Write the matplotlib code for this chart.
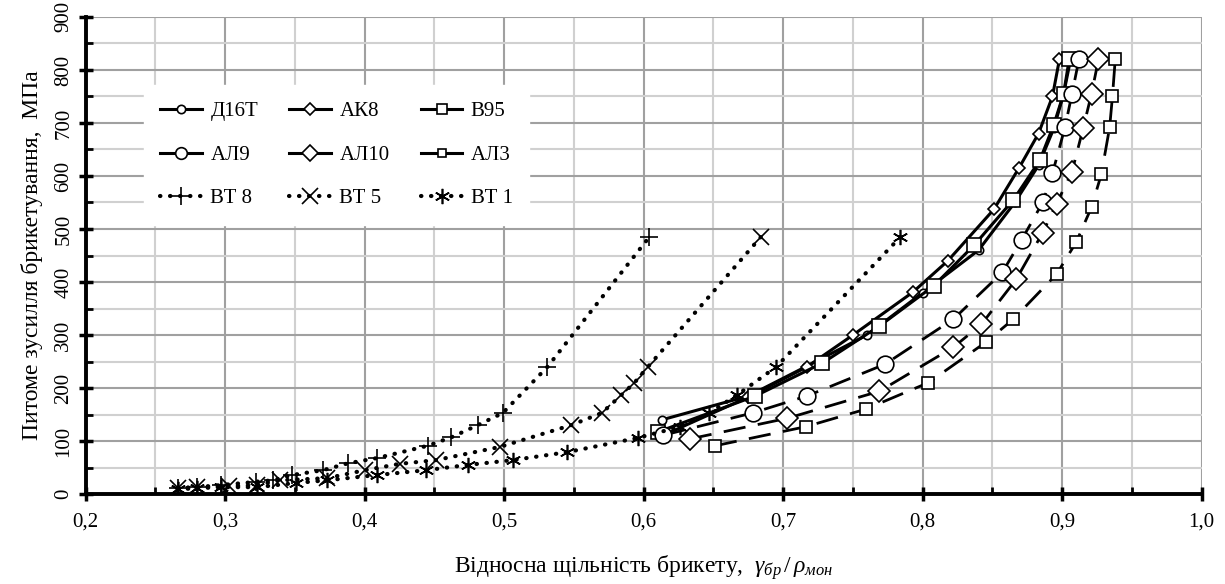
import matplotlib
matplotlib.use("Agg")
import matplotlib.pyplot as plt
from matplotlib.lines import Line2D
from matplotlib.ticker import MultipleLocator, FuncFormatter

plt.rcParams['font.family'] = ['Liberation Serif', 'DejaVu Serif']
plt.rcParams['mathtext.fontset'] = 'custom'
plt.rcParams['mathtext.it'] = 'Liberation Serif:italic'
plt.rcParams['mathtext.rm'] = 'Liberation Serif'

# ---- data ----
d16t_x = [0.613, 0.675, 0.716, 0.760, 0.800, 0.840, 0.866, 0.883, 0.894, 0.901, 0.906]
d16t_y = [140, 185, 240, 300, 380, 460, 550, 620, 690, 755, 820]

ak8_x = [0.615, 0.675, 0.717, 0.750, 0.793, 0.818, 0.851, 0.869, 0.883, 0.893, 0.898]
ak8_y = [112, 183, 240, 300, 381, 440, 537, 615, 680, 750, 820]

b95_x = [0.610, 0.680, 0.728, 0.769, 0.808, 0.837, 0.865, 0.884, 0.894, 0.901, 0.905]
b95_y = [117, 185, 247, 317, 393, 470, 555, 630, 697, 755, 820]

al9_x = [0.614, 0.678, 0.717, 0.773, 0.822, 0.857, 0.871, 0.886, 0.893, 0.902, 0.907, 0.912]
al9_y = [111, 153, 185, 245, 330, 418, 480, 550, 605, 692, 755, 820]

al10_x = [0.633, 0.703, 0.769, 0.822, 0.842, 0.867, 0.886, 0.896, 0.907, 0.915, 0.921, 0.926]
al10_y = [104, 143, 194, 277, 320, 405, 493, 548, 608, 690, 755, 820]

al3_x = [0.651, 0.716, 0.759, 0.804, 0.845, 0.865, 0.896, 0.910, 0.921, 0.928, 0.934, 0.936, 0.938]
al3_y = [91, 127, 160, 210, 286, 330, 415, 475, 541, 603, 692, 750, 820]

vt8_x = [0.266, 0.280, 0.297, 0.322, 0.334, 0.348, 0.370, 0.388, 0.409, 0.445, 0.462, 0.481, 0.499, 0.531, 0.604]
vt8_y = [11, 13, 17, 23, 26, 36, 45, 58, 68, 91, 107, 130, 153, 240, 485]

vt5_x = [0.266, 0.280, 0.303, 0.323, 0.339, 0.373, 0.400, 0.425, 0.451, 0.497, 0.548, 0.570, 0.584, 0.593, 0.603, 0.684]
vt5_y = [11, 13, 15, 17, 26, 30, 45, 57, 64, 89, 130, 153, 187, 209, 240, 485]

vt1_x = [0.266, 0.280, 0.297, 0.323, 0.351, 0.373, 0.409, 0.444, 0.474, 0.506, 0.545, 0.596, 0.626, 0.647, 0.667, 0.695, 0.784]
vt1_y = [9, 11, 13, 13, 21, 26, 36, 45, 55, 64, 79, 106, 127, 153, 187, 240, 485]

labels = ['Д16Т', 'АК8', 'В95', 'АЛ9', 'АЛ10', 'АЛ3', 'ВТ 8', 'ВТ 5', 'ВТ 1']

fig = plt.figure(figsize=(12.25, 5.84), dpi=100)
ax = fig.add_axes([0.070, 0.154, 0.911, 0.817])

solid = dict(color='black', lw=2.2, linestyle='-', markerfacecolor='white',
             markeredgecolor='black', markeredgewidth=1.2)
dash = dict(color='black', lw=2.0, linestyle=(0, (8, 4.5)), markerfacecolor='white',
            markeredgecolor='black', markeredgewidth=1.2)
dot = dict(color='black', lw=3.0, linestyle=(0, (0.1, 2.3)), dash_capstyle='round',
           markeredgecolor='black', markeredgewidth=1.2)

star = (6, 2, 0)
styles = [
    (d16t_x, d16t_y, solid, 'o', 6),
    (ak8_x, ak8_y, solid, 'D', 6),
    (b95_x, b95_y, solid, 's', 10),
    (al9_x, al9_y, dash, 'o', 12),
    (al10_x, al10_y, dash, 'D', 11),
    (al3_x, al3_y, dash, 's', 8),
    (vt8_x, vt8_y, dot, '+', 13),
    (vt5_x, vt5_y, dot, 'x', 11),
    (vt1_x, vt1_y, dot, star, 11),
]
for (xs, ys, st, mk, ms), lab in zip(styles, labels):
    ax.plot(xs, ys, marker=mk, markersize=ms, zorder=3, **st)

ax.set_xlim(0.2, 1.0)
ax.set_ylim(0, 900)
ax.xaxis.set_major_locator(MultipleLocator(0.1))
ax.xaxis.set_minor_locator(MultipleLocator(0.05))
ax.yaxis.set_major_locator(MultipleLocator(100))
ax.yaxis.set_minor_locator(MultipleLocator(50))
ax.xaxis.set_major_formatter(FuncFormatter(lambda v, p: f"{v:.1f}".replace('.', ',')))
ax.yaxis.set_major_formatter(FuncFormatter(lambda v, p: f"{int(round(v))}"))

ax.grid(which='major', color='#a0a0a0', lw=1.5, zorder=0)
ax.grid(which='minor', color='#d0d0d0', lw=1.5, zorder=0)
ax.set_axisbelow(True)
for s in ['top', 'right']:
    ax.spines[s].set_visible(False)
for s in ['left', 'bottom']:
    ax.spines[s].set_linewidth(2.8)
    ax.spines[s].set_color('black')

ax.tick_params(axis='both', which='major', direction='inout', length=10, width=2.5,
               labelsize=15, colors='black')
ax.tick_params(axis='both', which='minor', direction='in', length=5, width=2.0)
ax.tick_params(axis='x', which='major', pad=8)
for t in ax.get_yticklabels():
    t.set_rotation(90)
    t.set_va('center')
ax.tick_params(axis='y', which='major', pad=4)

ax.set_ylabel('Питоме зусилля брикетування,  МПа', fontsize=17, labelpad=8)
ax.set_xlabel(r'Відносна щільність брикету,  $\gamma_{бр}\,/\,\rho_{мон}$', fontsize=17, labelpad=16)

handles = []
for (xs, ys, st, mk, ms), lab in zip(styles, labels):
    if st is dot:
        h = Line2D([], [], color='black', lw=3.0, linestyle=(0, (0.1, 2.3)), dash_capstyle='round',
                   marker=mk, markersize=ms, markeredgewidth=1.2, markeredgecolor='black')
    else:
        h = Line2D([], [], color='black', lw=2.2, linestyle='-', marker=mk,
                   markersize=max(ms * 0.7, 6), markerfacecolor='white',
                   markeredgecolor='black', markeredgewidth=1.2)
    handles.append(h)

order = [0, 3, 6, 1, 4, 7, 2, 5, 8]
leg = ax.legend([handles[i] for i in order], [labels[i] for i in order], ncol=3,
                loc='upper left', bbox_to_anchor=(0.052, 0.857), borderaxespad=0,
                fontsize=15, frameon=True, fancybox=False, edgecolor='white',
                facecolor='white', framealpha=1.0, handlelength=2.0,
                handletextpad=0.4, columnspacing=1.5, labelspacing=1.15,
                borderpad=0.8)
leg.set_zorder(5)

fig.savefig('out.png', dpi=100)
